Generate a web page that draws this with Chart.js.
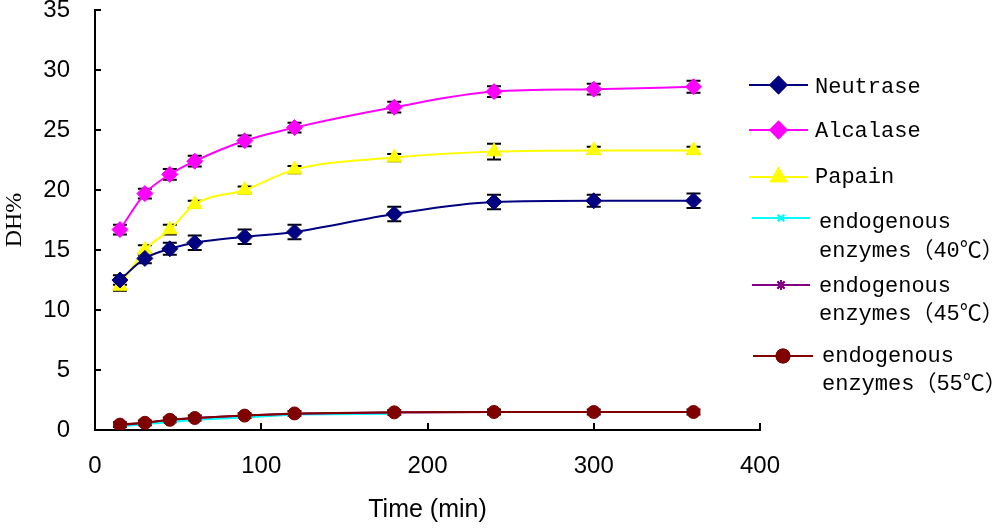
<!DOCTYPE html>
<html lang="en">
<head>
  <meta charset="UTF-8">
  <title>DH% vs time</title>
  <script src="https://cdn.jsdelivr.net/npm/chart.js"></script>
  <style>
    body {
      margin: 0;
      background: #fff;
    }

    #box {
      width: 1000px;
      height: 528px;
    }
  </style>
</head>
<body>
  <div id="box"><canvas id="grafico" width="1000" height="528"></canvas></div>

  <script>
    // hydrolysis time (min)
    const times = [15, 30, 45, 60, 90, 120, 180, 240, 300, 360];
    const times40 = [15, 30, 45, 60, 90, 120, 180];

    const neutrase = [12.5, 14.3, 15.1, 15.6, 16.1, 16.5, 18.0, 19.0, 19.1, 19.1];
    const neutraseErr = [0.4, 0.4, 0.5, 0.6, 0.6, 0.6, 0.6, 0.6, 0.5, 0.6];
    const alcalase = [16.7, 19.7, 21.3, 22.4, 24.1, 25.2, 26.9, 28.2, 28.4, 28.6];
    const alcalaseErr = [0.4, 0.4, 0.45, 0.45, 0.45, 0.4, 0.45, 0.45, 0.45, 0.5];
    const papain = [12.0, 15.0, 16.7, 18.8, 20.0, 21.7, 22.7, 23.2, 23.3, 23.3];
    const papainErr = [0.4, 0.4, 0.4, 0.3, 0.3, 0.3, 0.3, 0.65, 0.3, 0.3];
    const endo40 = [0.3, 0.5, 0.65, 0.85, 1.05, 1.3, 1.35];
    const endo45 = [0.4, 0.6, 0.85, 1.0, 1.2, 1.35, 1.45, 1.5, 1.5, 1.5];
    const endo55 = [0.45, 0.6, 0.85, 1.0, 1.2, 1.38, 1.47, 1.5, 1.5, 1.5];
    const endo55Err = [0.2, 0.2, 0.2, 0.2, 0.2, 0.2, 0.2, 0.2, 0.2, 0.2];

    const seriesNames = ['Neutrase', 'Alcalase', 'Papain',
      'endogenous\nenzymes（40℃）', 'endogenous\nenzymes（45℃）', 'endogenous\nenzymes（55℃）'];

    const yTicks = { min: 0, max: 35, step: 5 };
    const xTicks = { min: 0, max: 400, step: 100 };

    function pts(xs, ys) {
      return xs.map((x, i) => ({ x: x, y: ys[i] }));
    }

    // black error bars, drawn under the markers
    const errorBars = {
      id: 'errorBars',
      beforeDatasetsDraw(chart) {
        const ctx = chart.ctx;
        const ys = chart.scales.y;
        ctx.save();
        ctx.strokeStyle = '#000';
        ctx.lineWidth = 2;
        chart.data.datasets.forEach((ds, i) => {
          if (!ds.err) return;
          const meta = chart.getDatasetMeta(i);
          meta.data.forEach((p, j) => {
            const v = ds.data[j].y;
            const e = ds.err[j];
            const top = ys.getPixelForValue(v + e);
            const bot = ys.getPixelForValue(v - e);
            ctx.beginPath();
            ctx.moveTo(p.x, top); ctx.lineTo(p.x, bot);
            ctx.moveTo(p.x - 7, top); ctx.lineTo(p.x + 7, top);
            ctx.moveTo(p.x - 7, bot); ctx.lineTo(p.x + 7, bot);
            ctx.stroke();
          });
        });
        ctx.restore();
      }
    };

    // short tick marks pointing into the plot
    const innerTicks = {
      id: 'innerTicks',
      afterDraw(chart) {
        const ctx = chart.ctx;
        const a = chart.chartArea;
        ctx.save();
        ctx.strokeStyle = '#000';
        ctx.lineWidth = 2;
        ctx.beginPath();
        chart.scales.y.ticks.forEach(t => {
          const y = Math.round(chart.scales.y.getPixelForValue(t.value));
          ctx.moveTo(a.left, y); ctx.lineTo(a.left + 6, y);
        });
        chart.scales.x.ticks.forEach(t => {
          if (t.value === 0) return;
          const x = Math.round(chart.scales.x.getPixelForValue(t.value));
          ctx.moveTo(x, a.bottom); ctx.lineTo(x, a.bottom - 7);
        });
        ctx.stroke();
        ctx.restore();
      }
    };

    // legend on the right, two-line labels for the endogenous series
    const sideLegend = {
      id: 'sideLegend',
      afterDraw(chart) {
        const ctx = chart.ctx;
        const rows = [
          { y: 85, x1: 749, x2: 808, tx: 815, b: [93] },
          { y: 130, x1: 749, x2: 808, tx: 815, b: [137] },
          { y: 177, x1: 749, x2: 808, tx: 815, b: [183] },
          { y: 218, x1: 752, x2: 810, tx: 819, b: [228, 257] },
          { y: 285, x1: 752, x2: 810, tx: 819, b: [292, 320] },
          { y: 356, x1: 753, x2: 813, tx: 822, b: [362, 390] }
        ];
        ctx.save();
        chart.data.datasets.forEach((ds, i) => {
          const r = rows[i];
          ctx.strokeStyle = ds.borderColor;
          ctx.lineWidth = 2;
          ctx.beginPath();
          ctx.moveTo(r.x1, r.y); ctx.lineTo(r.x2, r.y);
          ctx.stroke();
          Chart.helpers.drawPoint(ctx, {
            pointStyle: ds.pointStyle,
            radius: ds.pointRadius,
            rotation: 0,
            borderWidth: ds.pointBorderWidth || 1
          }, (r.x1 + r.x2) / 2, r.y);
          ctx.fillStyle = ds.pointBackgroundColor;
          ctx.strokeStyle = ds.pointBorderColor;
          ctx.fill();
          ctx.stroke();
          ctx.fillStyle = '#000';
          ctx.font = '22px "Liberation Mono", "Noto Sans CJK SC", monospace';
          ctx.letterSpacing = '0px';
          ctx.textBaseline = 'alphabetic';
          ctx.textAlign = 'left';
          ds.label.split('\n').forEach((line, k) => {
            ctx.fillText(line, r.tx, r.b[k]);
          });
        });
        ctx.restore();
      }
    };

    function serie(label, xs, ys, color, style, radius, extra) {
      return Object.assign({
        label: label,
        data: pts(xs, ys),
        borderColor: color,
        backgroundColor: color,
        pointBackgroundColor: color,
        pointBorderColor: color,
        pointStyle: style,
        pointRadius: radius,
        pointBorderWidth: 1,
        borderWidth: 2,
        fill: false
      }, extra);
    }

    const ctx = document.getElementById('grafico').getContext('2d');
    new Chart(ctx, {
      type: 'line',
      data: {
        datasets: [
          serie(seriesNames[0], times, neutrase, '#000080', 'rectRot', 8,
            { err: neutraseErr, cubicInterpolationMode: 'monotone', order: 3 }),
          serie(seriesNames[1], times, alcalase, '#FF00FF', 'rectRot', 8,
            { err: alcalaseErr, cubicInterpolationMode: 'monotone', order: 5 }),
          serie(seriesNames[2], times, papain, '#FFFF00', 'triangle', 8.5,
            { err: papainErr, cubicInterpolationMode: 'monotone', order: 4 }),
          serie(seriesNames[3], times40, endo40, '#00FFFF', 'crossRot', 4.5,
            { order: 2 }),
          serie(seriesNames[4], times, endo45, '#800080', 'star', 5,
            { order: 1 }),
          serie(seriesNames[5], times, endo55, '#800000', 'circle', 6.5,
            { err: endo55Err, order: 0 })
        ]
      },
      options: {
        responsive: false,
        animation: false,
        events: [],
        layout: { padding: { top: 10, right: 240, left: 0, bottom: 0 } },
        plugins: {
          legend: { display: false },
          tooltip: { enabled: false }
        },
        scales: {
          x: {
            type: 'linear',
            min: xTicks.min,
            max: xTicks.max,
            ticks: {
              stepSize: xTicks.step,
              color: '#000',
              padding: 22,
              font: { family: 'Liberation Sans', size: 24 }
            },
            grid: { display: false, drawTicks: false },
            border: { display: true, color: '#000', width: 2 },
            title: {
              display: true,
              text: 'Time (min)',
              color: '#000',
              font: { family: 'Liberation Sans', size: 25 },
              padding: { top: 0, bottom: 3 }
            },
            afterFit(scale) {
              scale.height = 98;
              scale.paddingLeft = 0;
              scale.paddingRight = 0;
            }
          },
          y: {
            min: yTicks.min,
            max: yTicks.max,
            ticks: {
              stepSize: yTicks.step,
              color: '#000',
              padding: 25,
              font: { family: 'Liberation Sans', size: 24 }
            },
            grid: { display: false, drawTicks: false },
            border: { display: true, color: '#000', width: 2 },
            title: {
              display: true,
              text: 'DH%',
              color: '#000',
              font: { family: 'Liberation Serif', size: 24 },
              padding: { top: 0, bottom: 0 }
            },
            afterFit(scale) {
              scale.width = 95;
              scale.paddingTop = 0;
              scale.paddingBottom = 0;
            }
          }
        }
      },
      plugins: [errorBars, innerTicks, sideLegend]
    });
  </script>
</body>
</html>
